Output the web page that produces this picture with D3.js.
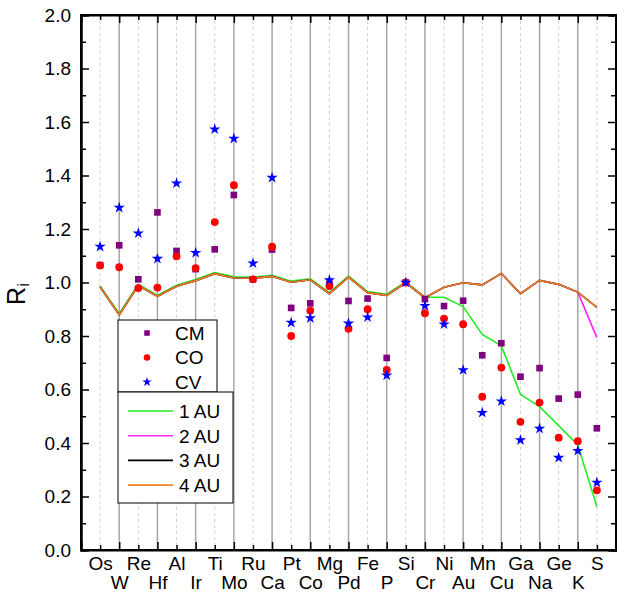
<!DOCTYPE html>
<html>

<head>
    <meta charset="utf-8" />
    <title>Ri</title>
    <style>
        body { margin: 0; background: #fff; }
        svg text { font-family: Arial, "Liberation Sans", sans-serif; }
    </style>
</head>

<body>
    <svg width=617 height=594></svg>
</body>

<script src="https://cdn.jsdelivr.net/npm/d3@7"></script>
<script>
    var elements = ['Os', 'W', 'Re', 'Hf', 'Al', 'Ir', 'Ti', 'Mo', 'Ru', 'Ca', 'Pt', 'Co', 'Mg', 'Pd',
        'Fe', 'P', 'Si', 'Cr', 'Ni', 'Au', 'Mn', 'Cu', 'Ga', 'Na', 'Ge', 'K', 'S'];

    // chondrite groups
    var cm = [1.065, 1.139, 1.012, 1.262, 1.118, 1.050, 1.124, 1.327, 1.012, 1.123, 0.905, 0.922, 0.995, 0.931,
        0.940, 0.718, 1.000, 0.938, 0.912, 0.932, 0.728, 0.773, 0.648, 0.680, 0.566, 0.581, 0.455];
    var co = [1.064, 1.057, 0.979, 0.981, 1.098, 1.054, 1.226, 1.364, 1.012, 1.134, 0.800, 0.895, 0.987, 0.827,
        0.900, 0.673, 1.000, 0.885, 0.865, 0.844, 0.573, 0.682, 0.479, 0.551, 0.420, 0.407, 0.223];
    var cv = [1.134, 1.280, 1.184, 1.089, 1.371, 1.111, 1.573, 1.538, 1.072, 1.392, 0.850, 0.867, 1.009, 0.847,
        0.870, 0.653, 1.000, 0.913, 0.844, 0.673, 0.513, 0.556, 0.411, 0.454, 0.345, 0.371, 0.252];

    // model curves
    var au1 = [0.987, 0.883, 0.993, 0.952, 0.990, 1.011, 1.037, 1.021, 1.020, 1.027, 1.005, 1.014, 0.962, 1.024,
        0.966, 0.956, 1.002, 0.945, 0.945, 0.910, 0.806, 0.763, 0.582, 0.536, 0.465, 0.393, 0.162];
    var au2 = [0.983, 0.879, 0.989, 0.948, 0.986, 1.007, 1.033, 1.017, 1.016, 1.023, 1.001, 1.010, 0.958, 1.020,
        0.962, 0.952, 0.999, 0.943, 0.982, 0.999, 0.991, 1.034, 0.958, 1.008, 0.993, 0.964, 0.794];
    var au3 = [0.983, 0.879, 0.989, 0.948, 0.986, 1.007, 1.033, 1.017, 1.016, 1.023, 1.001, 1.010, 0.958, 1.020,
        0.962, 0.952, 0.999, 0.943, 0.982, 0.999, 0.991, 1.034, 0.958, 1.008, 0.993, 0.964, 0.907];
    var au4 = [0.983, 0.879, 0.989, 0.948, 0.986, 1.007, 1.033, 1.017, 1.016, 1.023, 1.001, 1.010, 0.958, 1.020,
        0.962, 0.952, 0.999, 0.943, 0.982, 0.999, 0.991, 1.034, 0.958, 1.008, 0.993, 0.964, 0.907];

    var yTicks = [0, 0.2, 0.4, 0.6, 0.8, 1.0, 1.2, 1.4, 1.6, 1.8, 2.0];
    var yMinor = [0.1, 0.3, 0.5, 0.7, 0.9, 1.1, 1.3, 1.5, 1.7, 1.9];

    // plot box (note: "top" is taken by window.top)
    var pLeft = 81, pRight = 616, pTop = 15, pBottom = 550;

    var x = d3.scalePoint()
        .domain(elements)
        .range([pLeft, pRight])
        .padding(1);

    var y = d3.scaleLinear()
        .domain([0, 2])
        .range([pBottom, pTop]);

    var svg = d3.select('svg');

    // vertical grid, solid on odd, dashed on even
    svg.append('g')
        .selectAll('line')
        .data(elements)
        .enter()
        .append('line')
        .attr('x1', function (d) { return x(d); })
        .attr('x2', function (d) { return x(d); })
        .attr('y1', pTop)
        .attr('y2', pBottom)
        .attr('stroke', function (d, i) { return i % 2 ? '#a6a6a6' : '#cfcfcf'; })
        .attr('stroke-width', function (d, i) { return i % 2 ? 1.5 : 1; })
        .attr('stroke-dasharray', function (d, i) { return i % 2 ? null : '3,3'; });

    // model lines
    var series = [
        { name: '1 AU', values: au1, color: '#22ee22' },
        { name: '2 AU', values: au2, color: '#ff22ff' },
        { name: '3 AU', values: au3, color: '#000000' },
        { name: '4 AU', values: au4, color: '#f08020' }
    ];

    var line = d3.line()
        .x(function (d, i) { return x(elements[i]); })
        .y(function (d) { return y(d); });

    svg.append('g')
        .selectAll('path')
        .data(series)
        .enter()
        .append('path')
        .attr('d', function (d) { return line(d.values); })
        .attr('fill', 'none')
        .attr('stroke', function (d) { return d.color; })
        .attr('stroke-width', 1.6);

    // scatter points
    var groups = [
        { name: 'CM', values: cm, color: '#800080', shape: d3.symbolSquare, size: 44 },
        { name: 'CO', values: co, color: '#ff0000', shape: d3.symbolCircle, size: 48 },
        { name: 'CV', values: cv, color: '#0000ff', shape: d3.symbolStar, size: 40 }
    ];

    groups.forEach(function (g) {
        svg.append('g')
            .selectAll('path')
            .data(g.values)
            .enter()
            .append('path')
            .attr('transform', function (d, i) {
                return 'translate(' + x(elements[i]) + ',' + y(d) + ')';
            })
            .attr('d', d3.symbol().type(g.shape).size(g.size))
            .attr('fill', g.color);
    });

    // axes
    var fmt = d3.format('.1f');

    svg.append('g')
        .attr('transform', 'translate(' + pLeft + ',0)')
        .call(d3.axisLeft(y).tickValues(yMinor).tickSize(-5).tickFormat(''));
    svg.append('g')
        .attr('transform', 'translate(' + pLeft + ',0)')
        .call(d3.axisLeft(y).tickValues(yTicks).tickSize(-8).tickPadding(10).tickFormat(fmt))
        .attr('font-size', 19);

    svg.append('g')
        .attr('transform', 'translate(' + pRight + ',0)')
        .call(d3.axisRight(y).tickValues(yMinor).tickSize(-5).tickFormat(''));
    svg.append('g')
        .attr('transform', 'translate(' + pRight + ',0)')
        .call(d3.axisRight(y).tickValues(yTicks).tickSize(-8).tickFormat(''));

    var xBottom = svg.append('g')
        .attr('transform', 'translate(0,' + pBottom + ')')
        .call(d3.axisBottom(x).tickSize(-8))
        .attr('font-size', 19);
    xBottom.selectAll('.tick line')
        .attr('y2', function (d, i) { return i % 2 ? -8 : -5; });
    xBottom.selectAll('.tick text')
        .attr('y', function (d, i) { return i % 2 ? 26 : 7; });

    var xTop = svg.append('g')
        .attr('transform', 'translate(0,' + pTop + ')')
        .call(d3.axisTop(x).tickSize(-8).tickFormat(''));
    xTop.selectAll('.tick line')
        .attr('y2', function (d, i) { return i % 2 ? 8 : 5; });

    svg.selectAll('.domain')
        .attr('stroke-width', 2);
    svg.selectAll('.tick line')
        .attr('stroke-width', 1.5);
    // close the box over the domain end ticks
    svg.append('rect')
        .attr('x', pLeft)
        .attr('y', pTop)
        .attr('width', pRight - pLeft)
        .attr('height', pBottom - pTop)
        .attr('fill', 'none')
        .attr('stroke', '#000')
        .attr('stroke-width', 2);

    // y title
    var title = svg.append('text')
        .attr('transform', 'translate(25,294) rotate(-90)')
        .attr('text-anchor', 'middle')
        .attr('font-size', 25);
    title.append('tspan').text('R');
    title.append('tspan').attr('font-size', 17).attr('dy', 4).text('i');

    // legend, scatter groups
    svg.append('rect')
        .attr('x', 118).attr('y', 320).attr('width', 99).attr('height', 72)
        .attr('fill', '#fff').attr('stroke', '#000');

    var lg1 = svg.append('g')
        .selectAll('g')
        .data(groups)
        .enter()
        .append('g')
        .attr('transform', function (d, i) { return 'translate(147,' + (333 + i * 24.5) + ')'; });
    lg1.append('path')
        .attr('d', function (d) { return d3.symbol().type(d.shape).size(d.size * 0.7)(); })
        .attr('fill', function (d) { return d.color; });
    lg1.append('text')
        .attr('x', 28)
        .attr('dy', '0.36em')
        .attr('font-size', 19)
        .text(function (d) { return d.name; });

    // legend, model lines
    svg.append('rect')
        .attr('x', 118).attr('y', 392).attr('width', 115).attr('height', 111)
        .attr('fill', '#fff').attr('stroke', '#000');

    var lg2 = svg.append('g')
        .selectAll('g')
        .data(series)
        .enter()
        .append('g')
        .attr('transform', function (d, i) { return 'translate(128,' + (411 + i * 24.7) + ')'; });
    lg2.append('line')
        .attr('x1', 0).attr('x2', 45)
        .attr('stroke', function (d) { return d.color; })
        .attr('stroke-width', 1.6);
    lg2.append('text')
        .attr('x', 51)
        .attr('dy', '0.36em')
        .attr('font-size', 19)
        .text(function (d) { return d.name; });
</script>

</html>
